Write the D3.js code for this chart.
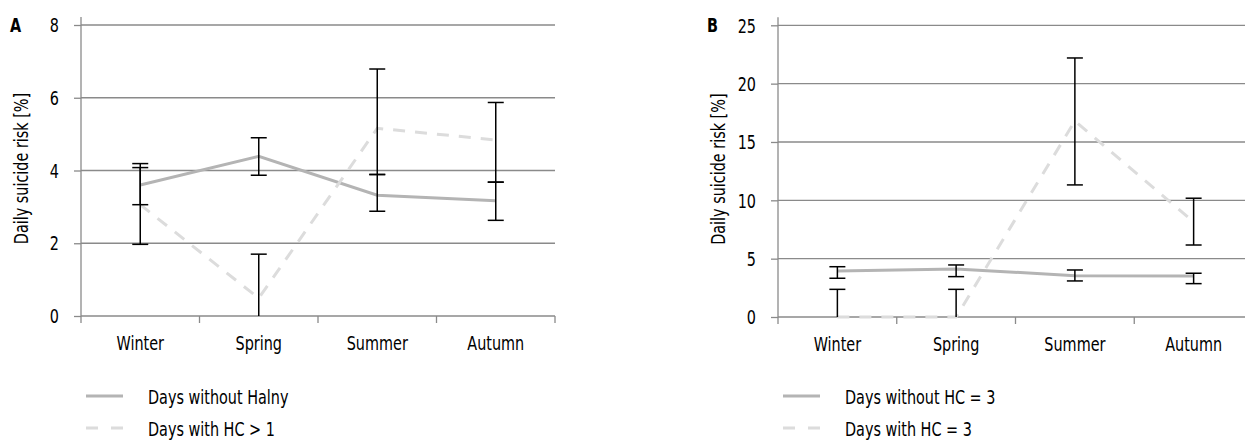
<!DOCTYPE html>
<html>
<head>
<meta charset="utf-8">
<script src="https://cdn.jsdelivr.net/npm/d3@7"></script>
<style>
  body { margin: 0; background: #fff; }
  svg { display: block; }
  text { font-family: "DejaVu Sans Condensed", "DejaVu Sans", sans-serif; font-stretch: condensed; fill: #000; font-size: 20px; }
</style>
</head>
<body>
<svg id="chart" width="1245" height="441"></svg>
<script>
// seasons on the x axis
var seasons = ["Winter", "Spring", "Summer", "Autumn"];

// panel A
var aTicks = [0, 2, 4, 6, 8];
var aWithout = [3.6, 4.39, 3.32, 3.17];
var aWithoutLow = [3.06, 3.87, 2.88, 2.63];
var aWithoutHigh = [4.08, 4.9, 3.89, 3.68];
var aWith = [3.06, 0.49, 5.16, 4.84];
var aWithLow = [1.97, -0.72, 3.89, 3.68];
var aWithHigh = [4.19, 1.7, 6.79, 5.87];
var aLegend = ["Days without Halny", "Days with HC > 1"];

// panel B
var bTicks = [0, 5, 10, 15, 20, 25];
var bWithout = [3.94, 4.12, 3.54, 3.52];
var bWithoutLow = [3.32, 3.46, 3.09, 2.86];
var bWithoutHigh = [4.31, 4.46, 4.03, 3.75];
var bWith = [0, 0, 16.8, 8.15];
var bWithLow = [-2.37, -2.37, 11.32, 6.17];
var bWithHigh = [2.37, 2.37, 22.2, 10.18];
var bLegend = ["Days without HC = 3", "Days with HC = 3"];

var axisColor = "#8a8a8a";
var svg = d3.select("#chart");

drawPanel({ letter: "A", left: 81, right: 555, top: 25, bottom: 316,
    ticks: aTicks, without: aWithout, withoutLow: aWithoutLow, withoutHigh: aWithoutHigh,
    withHC: aWith, withLow: aWithLow, withHigh: aWithHigh, legend: aLegend });

drawPanel({ letter: "B", left: 778, right: 1253, top: 25.3, bottom: 317,
    ticks: bTicks, without: bWithout, withoutLow: bWithoutLow, withoutHigh: bWithoutHigh,
    withHC: bWith, withLow: bWithLow, withHigh: bWithHigh, legend: bLegend });

// narrow text: the original uses a condensed face, so squeeze it a bit
function label(parent, x, y, str, anchor, rotate) {
    var t = parent.append("g")
        .attr("transform", "translate(" + x + "," + y + ")" + (rotate ? " rotate(-90)" : "") + " scale(0.8,1)")
      .append("text")
        .attr("text-anchor", anchor || "start")
        .text(str);
    return t;
}

function drawPanel(p) {
    var g = svg.append("g");

    var x = d3.scaleBand()
        .domain(seasons)
        .range([p.left, p.right]);

    var y = d3.scaleLinear()
        .domain([0, d3.max(p.ticks)])
        .range([p.bottom, p.top]);

    // gridlines
    g.selectAll(".grid")
        .data(p.ticks.slice(1))
        .enter().append("line")
        .attr("x1", p.left).attr("x2", p.right)
        .attr("y1", function(d) { return y(d); })
        .attr("y2", function(d) { return y(d); })
        .attr("stroke", axisColor)
        .attr("stroke-width", 1.3);

    // y axis: ticks from the scale, labels drawn narrow
    var yAxis = g.append("g")
        .attr("transform", "translate(" + p.left + ",0)")
        .call(d3.axisLeft(y).tickValues(p.ticks).tickSize(7).tickFormat(""));
    yAxis.select(".domain").remove();
    yAxis.selectAll("line").attr("stroke", axisColor).attr("stroke-width", 1.3);
    p.ticks.forEach(function(d) {
        label(g, p.left - 22, y(d), d, "end").attr("dy", "0.36em");
    });
    g.append("line")
        .attr("x1", p.left).attr("x2", p.left)
        .attr("y1", p.top - 8).attr("y2", p.bottom)
        .attr("stroke", axisColor).attr("stroke-width", 1.3);

    // x axis
    g.append("line")
        .attr("x1", p.left).attr("x2", p.right)
        .attr("y1", p.bottom).attr("y2", p.bottom)
        .attr("stroke", axisColor).attr("stroke-width", 1.3);
    var edges = seasons.map(function(s) { return x(s); }).concat([p.right]);
    g.selectAll(".xtick")
        .data(edges)
        .enter().append("line")
        .attr("x1", function(d) { return d; }).attr("x2", function(d) { return d; })
        .attr("y1", p.bottom).attr("y2", p.bottom + 7)
        .attr("stroke", axisColor).attr("stroke-width", 1.3);
    seasons.forEach(function(s) {
        label(g, x(s) + x.bandwidth() / 2, p.bottom + 34, s, "middle");
    });

    // axis title and panel letter
    label(g, p.left - 53, (p.top + p.bottom) / 2 - 2, "Daily suicide risk [%]", "middle", true);
    label(g, p.left - 71, p.top + 7, p.letter).style("font-weight", "bold");

    var cx = function(i) { return x(seasons[i]) + x.bandwidth() / 2; };
    var line = d3.line()
        .x(function(d, i) { return cx(i); })
        .y(function(d) { return y(d); });

    g.append("path")
        .datum(p.without)
        .attr("d", line)
        .attr("fill", "none")
        .attr("stroke", "#b4b4b4")
        .attr("stroke-width", 3);

    g.append("path")
        .datum(p.withHC)
        .attr("d", line)
        .attr("fill", "none")
        .attr("stroke", "#dcdcdc")
        .attr("stroke-width", 3)
        .attr("stroke-dasharray", "12,10");

    // error bars
    drawErrors(g, p.withoutLow, p.withoutHigh, cx, y);
    drawErrors(g, p.withLow, p.withHigh, cx, y);

    // legend
    var legend = g.append("g")
        .attr("transform", "translate(" + (p.left + 5) + "," + 396 + ")");
    p.legend.forEach(function(txt, i) {
        legend.append("line")
            .attr("x1", 0).attr("x2", 37)
            .attr("y1", i * 32).attr("y2", i * 32)
            .attr("stroke", i == 0 ? "#b4b4b4" : "#dcdcdc")
            .attr("stroke-width", 3)
            .attr("stroke-dasharray", i == 0 ? null : "12,13");
        label(legend, 62, i * 32 + 8, txt);
    });
}

// black error bars, no cap where the bar runs below zero
function drawErrors(g, low, high, cx, y) {
    var capW = 8;
    low.forEach(function(lo, i) {
        var x0 = cx(i);
        g.append("line")
            .attr("x1", x0).attr("x2", x0)
            .attr("y1", y(Math.max(lo, 0))).attr("y2", y(high[i]))
            .attr("stroke", "#000").attr("stroke-width", 1.5);
        g.append("line")
            .attr("x1", x0 - capW).attr("x2", x0 + capW)
            .attr("y1", y(high[i])).attr("y2", y(high[i]))
            .attr("stroke", "#000").attr("stroke-width", 1.5);
        if (lo > 0) {
            g.append("line")
                .attr("x1", x0 - capW).attr("x2", x0 + capW)
                .attr("y1", y(lo)).attr("y2", y(lo))
                .attr("stroke", "#000").attr("stroke-width", 1.5);
        }
    });
}
</script>
</body>
</html>
